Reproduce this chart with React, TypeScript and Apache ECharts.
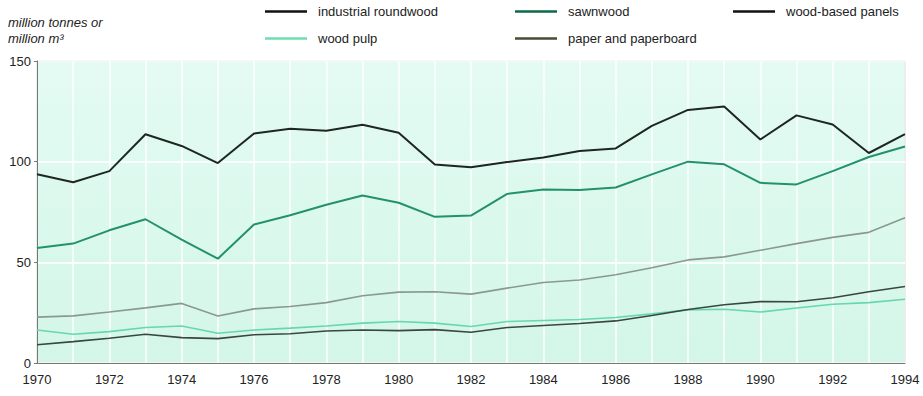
import React, { useEffect, useRef } from "react";
import * as echarts from "echarts";

const years = [
  "1970","1971","1972","1973","1974","1975","1976","1977","1978","1979","1980","1981",
  "1982","1983","1984","1985","1986","1987","1988","1989","1990","1991","1992","1993","1994",
];
const industrialRoundwood = [93.8, 89.8, 95.3, 113.6, 107.8, 99.3, 114, 116.3, 115.4, 118.3, 114.4, 98.6, 97.2, 99.8, 102.1, 105.3, 106.6, 117.8, 125.7, 127.4, 111, 123, 118.5, 104.3, 113.7];
const sawnwood = [57.1, 59.3, 65.9, 71.4, 61.3, 51.8, 68.8, 73.4, 78.6, 83.2, 79.6, 72.6, 73.2, 84, 86.2, 85.9, 87.2, 93.7, 100, 98.7, 89.5, 88.7, 95.3, 102.3, 107.5];
const woodBasedPanels = [9.1, 10.6, 12.3, 14.3, 12.6, 12.1, 14, 14.5, 15.9, 16.4, 16.1, 16.6, 15.3, 17.6, 18.6, 19.6, 20.9, 23.6, 26.6, 28.9, 30.5, 30.4, 32.4, 35.4, 38];
const woodPulp = [16.4, 14.3, 15.6, 17.6, 18.4, 14.8, 16.4, 17.3, 18.4, 19.8, 20.6, 19.8, 18.1, 20.6, 21.1, 21.6, 22.6, 24.4, 26.4, 26.7, 25.3, 27.3, 29.2, 30, 31.7];
const paperAndPaperboard = [22.8, 23.4, 25.3, 27.4, 29.6, 23.3, 26.9, 28.1, 30, 33.4, 35.2, 35.4, 34.2, 37.2, 40, 41.2, 43.8, 47.3, 51.2, 52.7, 56, 59.3, 62.4, 64.9, 72.1];
const yTicks = { min: 0, max: 150, interval: 50 };

const FONT = "'Liberation Sans', Arial, Helvetica, sans-serif";

export default function App() {
  const ref = useRef<HTMLDivElement>(null);
  useEffect(() => {
    if (!ref.current) return;
    const chart = echarts.init(ref.current, undefined, { renderer: "svg" });
    const legendText = { fontSize: 13, color: "#222", fontFamily: FONT, padding: [0, 0, 0, 6] };
    const mkLegend = (name: string, color: string, left: number, top: number) => ({
      data: [{ name, itemStyle: { color }, lineStyle: { color, width: 2.5 } }],
      left,
      top,
      icon: "rect",
      itemWidth: 42,
      itemHeight: 2.5,
      textStyle: legendText,
      selectedMode: false,
    });
    const mkSeries = (name: string, data: number[], color: string, width: number) => ({
      name,
      type: "line",
      data,
      symbol: "none",
      lineStyle: { color, width },
      itemStyle: { color },
    });
    chart.setOption({
      animation: false,
      textStyle: { fontFamily: FONT },
      grid: {
        left: 37,
        right: 18,
        top: 61,
        bottom: 33,
        show: true,
        borderColor: "#8a8f8c",
        borderWidth: 1,
        backgroundColor: new echarts.graphic.LinearGradient(0, 0, 0, 1, [
          { offset: 0, color: "#e4fbf3" },
          { offset: 1, color: "#d3f6e8" },
        ]),
      },
      legend: [
        mkLegend("industrial roundwood", "#111", 260, 0),
        mkLegend("sawnwood", "#0b6b45", 510, 0),
        mkLegend("wood-based panels", "#111", 728, 0),
        mkLegend("wood pulp", "#6fddb0", 260, 27),
        mkLegend("paper and paperboard", "#4a4a35", 510, 27),
      ],
      graphic: [
        {
          type: "text",
          left: 8,
          top: 14,
          style: {
            text: "million tonnes or\nmillion m³",
            font: `italic 13px ${FONT}`,
            fill: "#222",
            lineHeight: 16,
          },
        },
      ],
      xAxis: {
        type: "category",
        data: years,
        boundaryGap: false,
        axisLine: { show: true, lineStyle: { color: "#777", width: 1 } },
        axisTick: { show: false },
        axisLabel: { interval: 1, fontSize: 13, color: "#222", margin: 10 },
        splitLine: { show: true, interval: 0, lineStyle: { color: "rgba(255,255,255,0.7)", width: 2 } },
      },
      yAxis: {
        type: "value",
        min: yTicks.min,
        max: yTicks.max,
        interval: yTicks.interval,
        axisLine: { show: true, lineStyle: { color: "#777", width: 1 } },
        axisTick: { show: true, length: 3, lineStyle: { color: "#777" } },
        axisLabel: { fontSize: 13, color: "#222", margin: 6 },
        splitLine: { show: true, lineStyle: { color: "rgba(255,255,255,0.85)", width: 2 } },
      },
      series: [
        mkSeries("paper and paperboard", paperAndPaperboard, "#8b9890", 1.6),
        mkSeries("wood pulp", woodPulp, "#66d8ab", 1.6),
        mkSeries("wood-based panels", woodBasedPanels, "#3a4641", 1.6),
        mkSeries("sawnwood", sawnwood, "#23916a", 2),
        mkSeries("industrial roundwood", industrialRoundwood, "#1e2622", 2),
      ],
    });
    return () => chart.dispose();
  }, []);
  return (
    <div
      ref={ref}
      style={{ position: "fixed", left: 0, top: 0, width: 923, height: 396, background: "#fff" }}
    />
  );
}
